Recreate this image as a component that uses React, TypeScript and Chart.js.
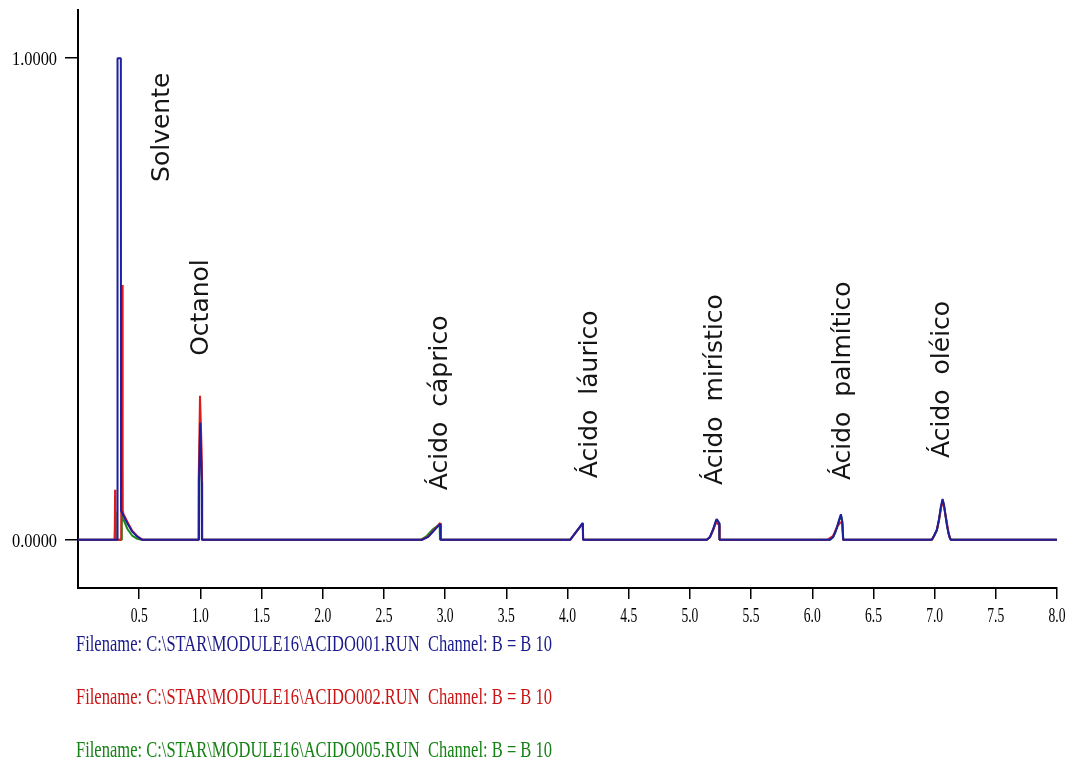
import React, { useEffect, useRef } from "react";
import { Chart, registerables } from "chart.js";

Chart.register(...registerables);

type Pt = [number, number];

// Retention time (min) and normalised detector signal for each run.
const run001: Pt[] = [
  [0, 0],
  [0.321, 0], [0.323, 1.0], [0.35, 1.0], [0.352, 0.06],
  [0.372, 0.05], [0.402, 0.035], [0.443, 0.017], [0.483, 0.007], [0.524, 0],
  [0.9875, 0], [0.9885, 0.118], [0.999, 0.243], [1.001, 0.243], [1.0115, 0.118], [1.0125, 0],
  [2.81, 0], [2.862, 0.006], [2.96, 0.033], [2.963, 0],
  [4.021, 0], [4.125, 0.035], [4.128, 0],
  [5.138, 0], [5.164, 0.006], [5.188, 0.021], [5.213, 0.04], [5.219, 0.043], [5.24, 0.035], [5.242, 0],
  [6.144, 0], [6.171, 0.006], [6.185, 0.014], [6.204, 0.028], [6.22, 0.042], [6.234, 0.053], [6.245, 0.038], [6.253, 0],
  [6.975, 0], [6.994, 0.008], [7.018, 0.021], [7.035, 0.042], [7.051, 0.069], [7.065, 0.085],
  [7.076, 0.073], [7.088, 0.052], [7.1, 0.031], [7.112, 0.015], [7.124, 0.004], [7.132, 0],
  [8, 0],
];

const run002: Pt[] = [
  [0, 0],
  [0.3, 0], [0.303, 0.104], [0.306, 0], [0.353, 0], [0.361, 0.529], [0.365, 0.062],
  [0.372, 0.053], [0.402, 0.038], [0.443, 0.019], [0.483, 0.008], [0.53, 0],
  [0.985, 0], [0.986, 0.12], [0.99, 0.187], [0.997, 0.299], [1.003, 0.299], [1.01, 0.187], [1.014, 0.12], [1.015, 0],
  [2.812, 0], [2.862, 0.007], [2.96, 0.035], [2.965, 0],
  [4.022, 0], [4.125, 0.034], [4.128, 0],
  [5.14, 0], [5.166, 0.006], [5.19, 0.02], [5.214, 0.036], [5.221, 0.035], [5.241, 0.03], [5.243, 0],
  [6.125, 0], [6.14, 0.003], [6.17, 0.008], [6.205, 0.028], [6.23, 0.036], [6.245, 0.036], [6.252, 0],
  [6.98, 0], [6.995, 0.008], [7.018, 0.02], [7.035, 0.04], [7.052, 0.066], [7.066, 0.08],
  [7.078, 0.068], [7.092, 0.048], [7.104, 0.03], [7.116, 0.012], [7.13, 0.002], [7.136, 0],
  [8, 0],
];

const run005: Pt[] = [
  [0, 0],
  [0.3, 0], [0.305, 0.059], [0.308, 0], [0.352, 0], [0.358, 0.214], [0.362, 0.045],
  [0.375, 0.04], [0.405, 0.022], [0.445, 0.008], [0.485, 0.002], [0.52, 0],
  [0.986, 0], [0.99, 0.15], [1.0, 0.2], [1.01, 0.15], [1.014, 0],
  [2.8, 0], [2.85, 0.008], [2.9, 0.022], [2.955, 0.032], [2.958, 0],
  [4.022, 0], [4.124, 0.034], [4.127, 0],
  [5.14, 0], [5.165, 0.006], [5.19, 0.02], [5.214, 0.039], [5.22, 0.042], [5.24, 0.034], [5.242, 0],
  [6.146, 0], [6.172, 0.006], [6.186, 0.014], [6.205, 0.027], [6.221, 0.041], [6.235, 0.051], [6.246, 0.037], [6.254, 0],
  [6.977, 0], [6.996, 0.008], [7.019, 0.02], [7.036, 0.041], [7.052, 0.067], [7.066, 0.083],
  [7.077, 0.071], [7.089, 0.05], [7.101, 0.03], [7.113, 0.014], [7.125, 0.003], [7.133, 0],
  [8, 0],
];

const lineColors = ["#1E1EA0", "#DD1C1C", "#1A8A1A"];
const textColors = ["#1A1A8A", "#C81414", "#148214"];

const fileLines = [
  "Filename: C:\\STAR\\MODULE16\\ACIDO001.RUN  Channel: B = B 10",
  "Filename: C:\\STAR\\MODULE16\\ACIDO002.RUN  Channel: B = B 10",
  "Filename: C:\\STAR\\MODULE16\\ACIDO005.RUN  Channel: B = B 10",
];

const peakNames = [
  "Solvente",
  "Octanol",
  "Ácido cáprico",
  "Ácido láurico",
  "Ácido mirístico",
  "Ácido palmítico",
  "Ácido oléico",
];
const peakLabelTimes = [0.74, 1.065, 3.015, 4.241, 5.262, 6.309, 7.118];
const peakLabelLevels = [0.743, 0.382, 0.103, 0.128, 0.114, 0.124, 0.17];

const xTickValues = [0.5, 1, 1.5, 2, 2.5, 3, 3.5, 4, 4.5, 5, 5.5, 6, 6.5, 7, 7.5, 8];
const xTickLabels = ["0.5", "1.0", "1.5", "2.0", "2.5", "3.0", "3.5", "4.0", "4.5", "5.0", "5.5", "6.0", "6.5", "7.0", "7.5", "8.0"];
const yTickValues = [0, 1];
const yTickLabels = ["0.0000", "1.0000"];

const SERIF = '"Liberation Serif", "Times New Roman", serif';

// Narrow serif labels for the axes and the run list, plus rotated peak names.
const annotate = {
  id: "annotate",
  afterDraw(chart: any) {
    const { ctx, chartArea } = chart;
    const xs = chart.scales.x;
    const ys = chart.scales.y;
    ctx.save();
    ctx.fillStyle = "#000";
    ctx.textBaseline = "alphabetic";

    ctx.font = `22px ${SERIF}`;
    ctx.textAlign = "center";
    const sx = 17 / ctx.measureText("0.5").width;
    xTickValues.forEach((v, i) => {
      ctx.save();
      ctx.translate(xs.getPixelForValue(v), chartArea.bottom + 34);
      ctx.scale(sx, 1);
      ctx.fillText(xTickLabels[i], 0, 0);
      ctx.restore();
    });

    ctx.font = `19px ${SERIF}`;
    ctx.textAlign = "right";
    const sy = 45 / ctx.measureText("1.0000").width;
    yTickValues.forEach((v, i) => {
      ctx.save();
      ctx.translate(chartArea.left - 21, ys.getPixelForValue(v) + 7);
      ctx.scale(sy, 1);
      ctx.fillText(yTickLabels[i], 0, 0);
      ctx.restore();
    });

    ctx.font = '25px "DejaVu Sans", sans-serif';
    ctx.textAlign = "left";
    ctx.fillStyle = "#151515";
    if ("wordSpacing" in ctx) (ctx as any).wordSpacing = "7px";
    peakNames.forEach((name, i) => {
      ctx.save();
      ctx.translate(xs.getPixelForValue(peakLabelTimes[i]), ys.getPixelForValue(peakLabelLevels[i]));
      ctx.rotate(-Math.PI / 2);
      ctx.fillText(name, 0, 0);
      ctx.restore();
    });
    if ("wordSpacing" in ctx) (ctx as any).wordSpacing = "0px";

    ctx.font = `23px ${SERIF}`;
    ctx.textAlign = "left";
    fileLines.forEach((line, i) => {
      const s = 476 / ctx.measureText(line).width;
      ctx.save();
      ctx.translate(76, chartArea.bottom + 63 + i * 53);
      ctx.scale(s, 1);
      ctx.fillStyle = textColors[i];
      ctx.fillText(line, 0, 0);
      ctx.restore();
    });
    ctx.restore();
  },
};

export default function App() {
  const canvasRef = useRef<HTMLCanvasElement | null>(null);

  useEffect(() => {
    if (!canvasRef.current) return;
    const runs = [run001, run002, run005];
    const chart = new Chart(canvasRef.current, {
      type: "line",
      data: {
        datasets: runs.map((run, i) => ({
          label: fileLines[i],
          data: run.map(([t, v]) => ({ x: t, y: v })),
          borderColor: lineColors[i],
          backgroundColor: lineColors[i],
          borderWidth: 2,
          borderJoinStyle: "bevel" as const,
          pointRadius: 0,
          tension: 0,
          fill: false,
          order: i,
        })),
      },
      options: {
        animation: false,
        responsive: false,
        devicePixelRatio: 1,
        layout: { padding: { top: 10, left: 0, right: 8, bottom: 135 } },
        plugins: { legend: { display: false }, tooltip: { enabled: false } },
        scales: {
          x: {
            type: "linear",
            min: 0,
            max: 8,
            afterBuildTicks: (scale: any) => {
              scale.ticks = xTickValues.map((v) => ({ value: v }));
            },
            afterFit: (scale: any) => {
              scale.height = 40;
            },
            ticks: { display: false },
            grid: {
              drawOnChartArea: false,
              drawTicks: true,
              tickLength: 11,
              color: "#000",
              lineWidth: 1.5,
            },
            border: { display: true, color: "#000", width: 2 },
          },
          y: {
            type: "linear",
            min: -0.1,
            max: 1.1,
            afterBuildTicks: (scale: any) => {
              scale.ticks = yTickValues.map((v) => ({ value: v }));
            },
            afterFit: (scale: any) => {
              scale.width = 78;
            },
            ticks: { display: false },
            grid: {
              drawOnChartArea: false,
              drawTicks: true,
              tickLength: 13,
              color: "#000",
              lineWidth: 1.5,
            },
            border: { display: true, color: "#000", width: 2 },
          },
        },
      },
      plugins: [annotate],
    });
    return () => chart.destroy();
  }, []);

  return (
    <div style={{ position: "fixed", left: 0, top: 0, width: 1065, height: 763, background: "#fff" }}>
      <canvas ref={canvasRef} width={1065} height={763} style={{ display: "block" }} />
    </div>
  );
}
